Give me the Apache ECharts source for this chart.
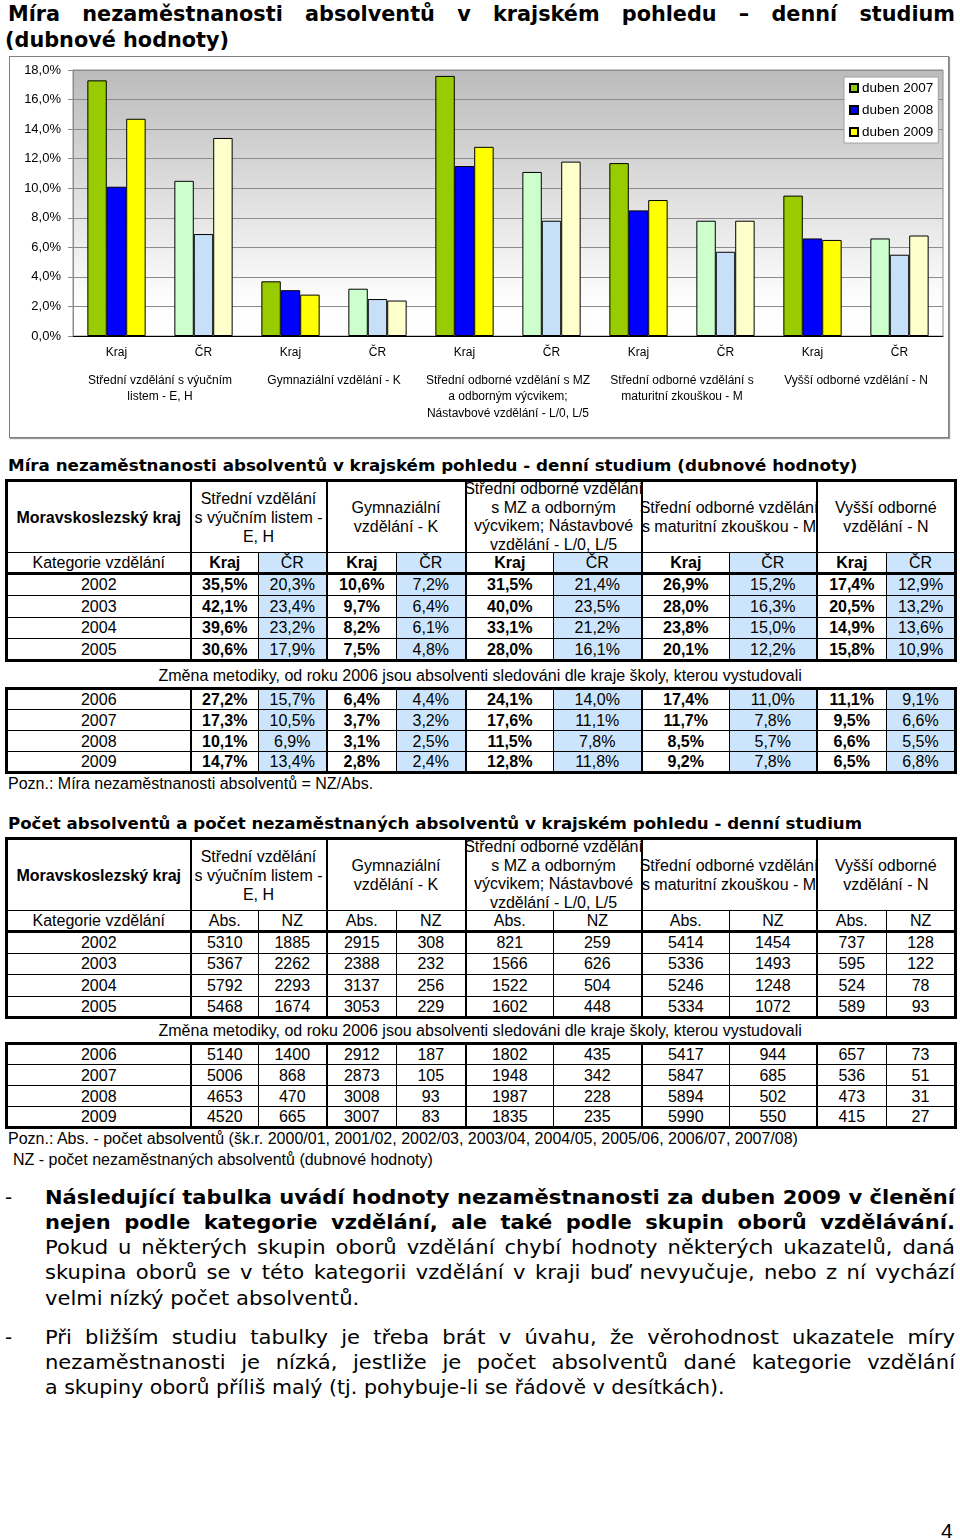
<!DOCTYPE html>
<html><head><meta charset="utf-8">
<script src="https://cdn.jsdelivr.net/npm/echarts/dist/echarts.min.js"></script>
<style>
body{margin:0;width:960px;height:1540px;position:relative;background:#fff;font-family:'Liberation Sans',Arial,sans-serif;color:#000;overflow:hidden}
.ln{position:absolute;white-space:nowrap;transform-origin:0 50%;line-height:25px}
.dj{font-family:'DejaVu Sans',Verdana,sans-serif}
.ar{font-family:'Liberation Sans',Arial,sans-serif}
#chart{position:absolute;left:9px;top:56px;width:940px;height:382px;box-sizing:border-box;border:1px solid #808080;box-shadow:1px 1px 1px #9a9a9a}
table.t{position:absolute;left:5px;border-collapse:collapse;table-layout:fixed;width:949px;border:3px solid #000;font-size:16px;font-family:'Liberation Sans',Arial,sans-serif}
table.t td{border:1px solid #000;padding:0;text-align:center;white-space:nowrap;line-height:19px}
table.t td.g{border-left:2px solid #000}
table.t tr.sep td{border-top:3px solid #000}
table.t td.cr{background:#CDE5FC}
table.t td.b{font-weight:bold}
.hc{height:70px;display:flex;align-items:center;justify-content:center;flex-direction:column;line-height:19px}
.hc.tight{line-height:18.5px}
</style></head>
<body>
<div id="chart"></div>
<script>
// ---------- data ----------
const chartCats = ['Kraj','ČR','Kraj','ČR','Kraj','ČR','Kraj','ČR','Kraj','ČR'];
const chartGroups = ['Střední vzdělání s výučním\nlistem - E, H','Gymnaziální vzdělání - K','Střední odborné vzdělání s MZ\na odborným výcvikem;\nNástavbové vzdělání - L/0, L/5','Střední odborné vzdělání s\nmaturitní zkouškou - M','Vyšší odborné vzdělání - N'];
const seriesNames = ['duben 2007','duben 2008','duben 2009'];
const yTicks = [0,2,4,6,8,10,12,14,16,18];

const tableHeaders = ['Střední vzdělání<br>s výučním listem -<br>E, H','Gymnaziální<br>vzdělání - K','Střední odborné vzdělání<br>s MZ a odborným<br>výcvikem; Nástavbové<br>vzdělání - L/0, L/5','Střední odborné vzdělání<br>s maturitní zkouškou - M','Vyšší odborné<br>vzdělání - N'];
const yearsA = ['2002','2003','2004','2005'];
const yearsB = ['2006','2007','2008','2009'];
// unemployment rate (%), columns: Kraj, ČR for E/H, K, L, M, N
const rate2002 = [35.5,20.3,10.6,7.2,31.5,21.4,26.9,15.2,17.4,12.9];
const rate2003 = [42.1,23.4,9.7,6.4,40.0,23.5,28.0,16.3,20.5,13.2];
const rate2004 = [39.6,23.2,8.2,6.1,33.1,21.2,23.8,15.0,14.9,13.6];
const rate2005 = [30.6,17.9,7.5,4.8,28.0,16.1,20.1,12.2,15.8,10.9];
const rate2006 = [27.2,15.7,6.4,4.4,24.1,14.0,17.4,11.0,11.1,9.1];
const rate2007 = [17.3,10.5,3.7,3.2,17.6,11.1,11.7,7.8,9.5,6.6];
const rate2008 = [10.1,6.9,3.1,2.5,11.5,7.8,8.5,5.7,6.6,5.5];
const rate2009 = [14.7,13.4,2.8,2.4,12.8,11.8,9.2,7.8,6.5,6.8];
// counts: Abs., NZ for E/H, K, L, M, N
const cnt2002 = [5310,1885,2915,308,821,259,5414,1454,737,128];
const cnt2003 = [5367,2262,2388,232,1566,626,5336,1493,595,122];
const cnt2004 = [5792,2293,3137,256,1522,504,5246,1248,524,78];
const cnt2005 = [5468,1674,3053,229,1602,448,5334,1072,589,93];
const cnt2006 = [5140,1400,2912,187,1802,435,5417,944,657,73];
const cnt2007 = [5006,868,2873,105,1948,342,5847,685,536,51];
const cnt2008 = [4653,470,3008,93,1987,228,5894,502,473,31];
const cnt2009 = [4520,665,3007,83,1835,235,5990,550,415,27];

// ---------- chart ----------
const darkColors = ['#99CC00','#0000FF','#FFFF00'];
const lightColors = ['#CCFFCC','#C6E0FA','#FFFFCC'];
const seriesVals = [rate2007, rate2008, rate2009];
const fmtPct = v => v.toFixed(1).replace('.', ',') + '%';

const chart = echarts.init(document.getElementById('chart'), null, {renderer:'canvas'});
chart.setOption({
  animation:false,
  textStyle:{fontFamily:'Liberation Sans, Arial, sans-serif'},
  grid:{left:63,top:13,width:870,height:266,show:true,
    backgroundColor:{type:'linear',x:0,y:0,x2:0,y2:1,colorStops:[{offset:0,color:'#BBBBBB'},{offset:0.85,color:'#FCFCFC'},{offset:1,color:'#FFFFFF'}]},
    borderColor:'#8C8C8C',borderWidth:1},
  legend:{orient:'vertical',left:834,top:20,padding:[4,5,4,5],itemGap:8,itemWidth:8,itemHeight:8,icon:'rect',
    backgroundColor:'#FFFFFF',borderColor:'#A0A0A0',borderWidth:1,
    textStyle:{fontSize:13.5,color:'#000',padding:[0,0,0,-1]},data:seriesNames},
  xAxis:[
    {type:'category',data:chartCats,position:'bottom',
     axisLine:{lineStyle:{color:'#000',width:1}},
     axisTick:{interval:0,length:22,lineStyle:{color:'#A6A6A6'}},
     axisLabel:{interval:0,color:'#000',fontSize:12,margin:11}},
    {type:'category',data:chartGroups,position:'bottom',
     axisLine:{show:false},
     axisTick:{interval:0,length:87,lineStyle:{color:'#A6A6A6'}},
     axisLabel:{interval:0,color:'#000',fontSize:12,lineHeight:16.5,margin:36}}
  ],
  yAxis:{type:'value',min:yTicks[0],max:yTicks[yTicks.length-1],interval:2,
    axisLine:{show:true,lineStyle:{color:'#8C8C8C'}},
    axisTick:{show:true,length:5,lineStyle:{color:'#8C8C8C'}},
    splitLine:{lineStyle:{color:'#8C8C8C'}},
    axisLabel:{color:'#000',fontSize:13,margin:12,formatter:v=>fmtPct(v)}},
  series: seriesNames.map((name,si)=>({
    name, type:'bar', xAxisIndex:0, barGap:'0%', barCategoryGap:'33%',
    itemStyle:{color:darkColors[si],borderColor:'#000',borderWidth:1},
    data: seriesVals[si].map((v,i)=>({value:v,itemStyle:{color: i%2 ? lightColors[si] : darkColors[si]}}))
  }))
});

// ---------- tables ----------
const colW = [184,68,68,70,69,88,88,88,87,70,69];
const colgroup = '<colgroup>'+colW.map(w=>`<col style="width:${w}px">`).join('')+'</colgroup>';
function headerRows(isRate){
  let h = `<tr style="height:72px"><td class="b">Moravskoslezský kraj</td>` +
    tableHeaders.map((t,i)=>`<td colspan="2" class="g"><div class="hc${i===2?' tight':''}">${t}</div></td>`).join('') + '</tr>';
  h += `<tr style="height:21px"><td>Kategorie vzdělání</td>`;
  for(let i=0;i<5;i++) h += isRate ? `<td class="g b">Kraj</td><td class="cr">ČR</td>` : `<td class="g">Abs.</td><td>NZ</td>`;
  return h + '</tr>';
}
function dataRows(years, rows, isRate, h, sepFirst){
  return years.map((y,ri)=>`<tr style="height:${h}px"${ri===0&&sepFirst?' class="sep"':''}><td>${y}</td>` +
    rows[ri].map((v,i)=>{
      const cls = [];
      if(i%2===0) cls.push('g');
      if(isRate){ cls.push(i%2 ? 'cr' : 'b'); }
      return `<td class="${cls.join(' ')}">${isRate?fmtPct(v):v}</td>`;
    }).join('') + '</tr>').join('');
}
function addTable(top, html){
  const t = document.createElement('table');
  t.className='t'; t.style.top=top+'px';
  t.innerHTML = colgroup + html;
  document.body.appendChild(t);
}
addTable(479, headerRows(true) + dataRows(yearsA,[rate2002,rate2003,rate2004,rate2005],true,21.75,true));
addTable(687, dataRows(yearsB,[rate2006,rate2007,rate2008,rate2009],true,21,false));
addTable(837, headerRows(false) + dataRows(yearsA,[cnt2002,cnt2003,cnt2004,cnt2005],false,21.5,true));
addTable(1042, dataRows(yearsB,[cnt2006,cnt2007,cnt2008,cnt2009],false,21,false));

// ---------- text ----------
function mk(html, cls, x, yc, fs, weight){
  const d=document.createElement('div');
  d.className='ln '+cls; d.innerHTML=html;
  d.style.left=x+'px'; d.style.top=(yc-12.5)+'px';
  d.style.fontSize=fs+'px'; if(weight) d.style.fontWeight=weight;
  document.body.appendChild(d); return d;
}
function group(lines, refIdx, refTarget){
  const els = lines.map(l=>mk(l.t,l.cls||'dj',l.x,l.y,l.fs,l.w));
  const s0 = refTarget / els[refIdx].offsetWidth;
  els.forEach((el,i)=>{
    const l=lines[i]; const w=el.offsetWidth;
    let s = Math.min(s0, l.target ? l.target/w : s0);
    if(l.j){ el.style.width=(l.target/s)+'px'; el.style.textAlign='justify'; el.style.textAlignLast='justify'; }
    el.style.transform='scaleX('+s+')';
  });
}
// main title
group([
  {t:'Míra nezaměstnanosti absolventů v krajském pohledu – denní studium',x:8,y:13,fs:22,w:'bold',target:947,j:true},
  {t:'(dubnové hodnoty)',x:5,y:39,fs:22,w:'bold',target:224}
],1,224);
// table titles
group([{t:'Míra nezaměstnanosti absolventů v krajském pohledu - denní studium (dubnové hodnoty)',x:8,y:466,fs:15,w:'bold'}],0,849);
group([{t:'Počet absolventů a počet nezaměstnaných absolventů v krajském pohledu - denní studium',x:8,y:824,fs:15,w:'bold'}],0,854);
// notes (Arial)
function plain(t,x,y,fs,center){
  const d=mk(t,'ar',x,y,fs,null);
  if(center){ d.style.left=(x - d.offsetWidth/2)+'px'; }
  return d;
}
plain('Změna metodiky, od roku 2006 jsou absolventi sledováni dle kraje školy, kterou vystudovali',480,675,16,true);
plain('Pozn.: Míra nezaměstnanosti absolventů = NZ/Abs.',8,783,16);
plain('Změna metodiky, od roku 2006 jsou absolventi sledováni dle kraje školy, kterou vystudovali',480,1030,16,true);
plain('Pozn.: Abs. - počet absolventů (šk.r. 2000/01, 2001/02, 2002/03, 2003/04, 2004/05, 2005/06, 2006/07, 2007/08)',8,1138,16);
plain('NZ - počet nezaměstnaných absolventů (dubnové hodnoty)',13,1159,16);
plain('4',941,1530,21);
// paragraphs
mk('-','dj',5,1197,20,null);
mk('-','dj',5,1337,20,null);
group([
  {t:'Následující tabulka uvádí hodnoty nezaměstnanosti za duben 2009 v členění',x:45,y:1197,fs:20,w:'bold',target:910,j:true},
  {t:'nejen podle kategorie vzdělání, ale také podle skupin oborů vzdělávání.',x:45,y:1222,fs:20,w:'bold',target:910,j:true}
],0,910);
group([
  {t:'velmi nízký počet absolventů.',x:45,y:1298,fs:20,target:314},
  {t:'Pokud u některých skupin oborů vzdělání chybí hodnoty některých ukazatelů, daná',x:45,y:1247,fs:20,target:910,j:true},
  {t:'skupina oborů se v této kategorii vzdělání v kraji buď nevyučuje, nebo z ní vychází',x:45,y:1272,fs:20,target:910,j:true},
  {t:'Při bližším studiu tabulky je třeba brát v úvahu, že věrohodnost ukazatele míry',x:45,y:1337,fs:20,target:910,j:true},
  {t:'nezaměstnanosti je nízká, jestliže je počet absolventů dané kategorie vzdělání',x:45,y:1362,fs:20,target:910,j:true},
  {t:'a skupiny oborů příliš malý (tj. pohybuje-li se řádově v desítkách).',x:45,y:1387,fs:20,target:680}
],0,314);
</script>
</body></html>
